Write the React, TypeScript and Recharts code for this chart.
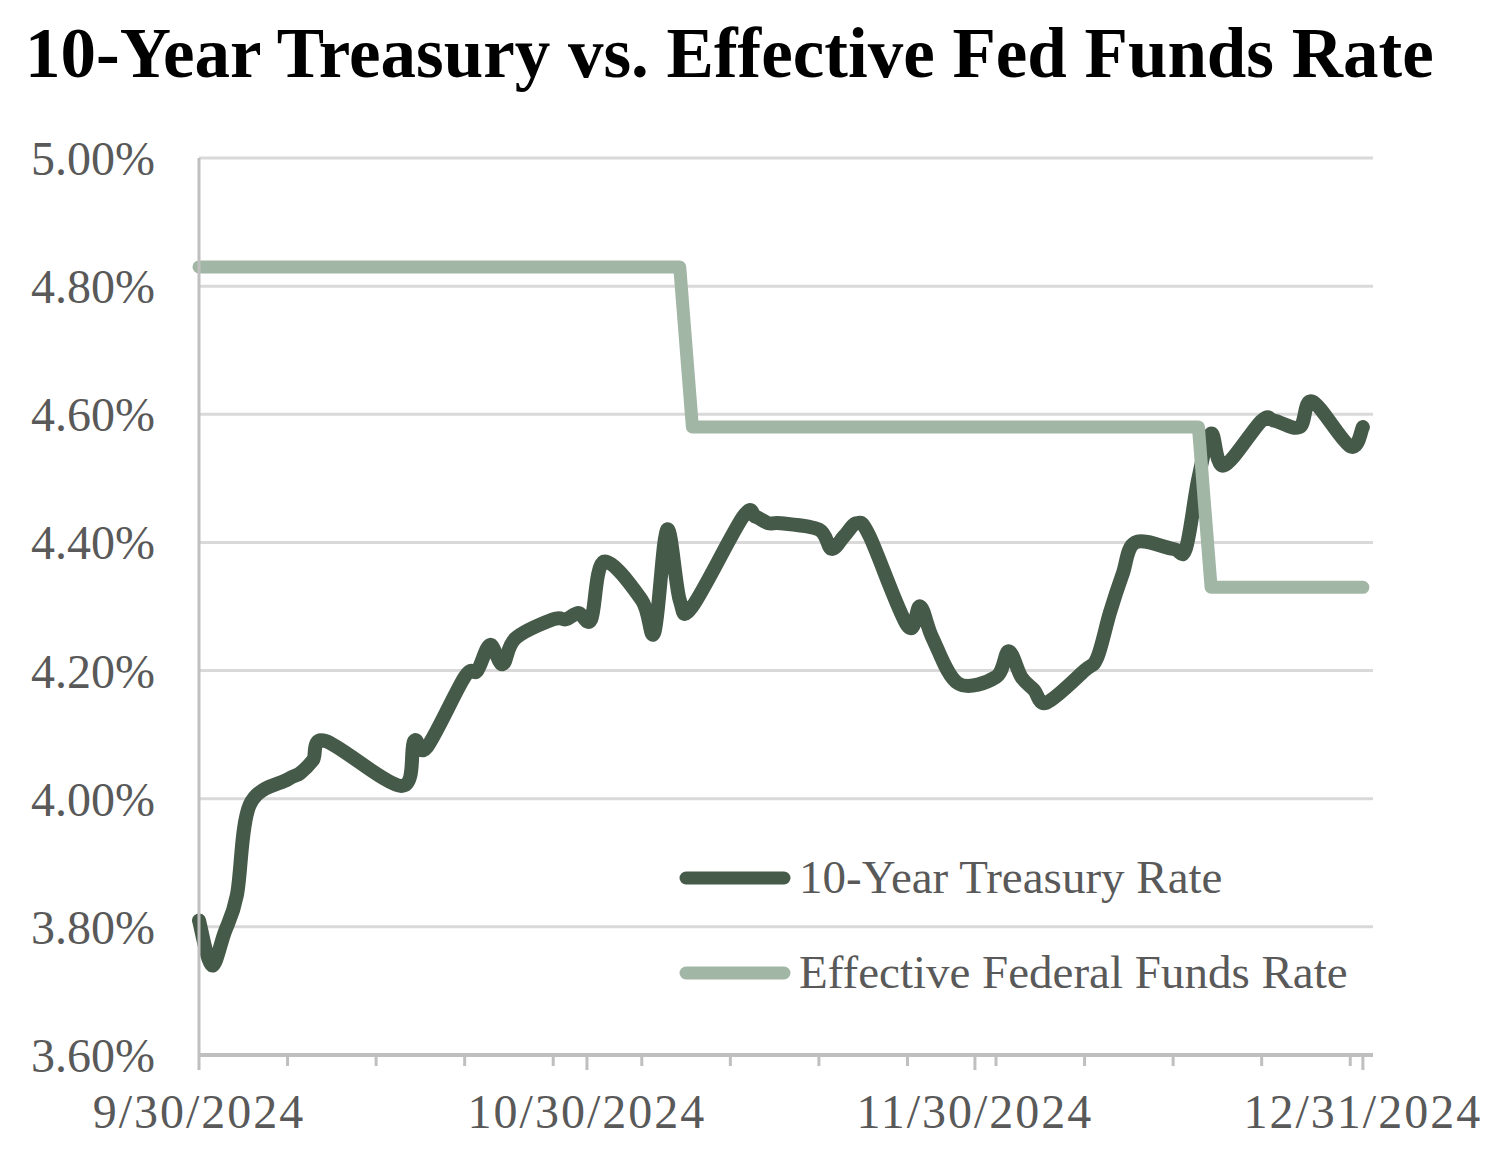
import React from "react";
import { LineChart, Line, XAxis, YAxis, CartesianGrid, Legend } from "recharts";

// ---------- data ----------
const dates = [
  "2024-09-30", "2024-10-01", "2024-10-02", "2024-10-03", "2024-10-04",
  "2024-10-07", "2024-10-08", "2024-10-09", "2024-10-10", "2024-10-16",
  "2024-10-17", "2024-10-18", "2024-10-21", "2024-10-22", "2024-10-23",
  "2024-10-24", "2024-10-25", "2024-10-28", "2024-10-29", "2024-10-30",
  "2024-10-31", "2024-11-01", "2024-11-04", "2024-11-05", "2024-11-06",
  "2024-11-07", "2024-11-08", "2024-11-12", "2024-11-13", "2024-11-14",
  "2024-11-15", "2024-11-18", "2024-11-19", "2024-11-20", "2024-11-21",
  "2024-11-22", "2024-11-25", "2024-11-26", "2024-11-27", "2024-11-29",
  "2024-12-02", "2024-12-03", "2024-12-04", "2024-12-05", "2024-12-06",
  "2024-12-09", "2024-12-10", "2024-12-11", "2024-12-12", "2024-12-13",
  "2024-12-16", "2024-12-17", "2024-12-18", "2024-12-19", "2024-12-20",
  "2024-12-23", "2024-12-24", "2024-12-26", "2024-12-27", "2024-12-30",
  "2024-12-31",
];

const treasuryRate = [
  3.81, 3.74, 3.79, 3.85, 3.99, 4.03, 4.04, 4.06, 4.09, 4.02,
  4.09, 4.08, 4.19, 4.2, 4.24, 4.21, 4.25, 4.28, 4.28, 4.29,
  4.28, 4.37, 4.31, 4.26, 4.42, 4.31, 4.3, 4.44, 4.44, 4.43,
  4.43, 4.42, 4.39, 4.41, 4.43, 4.41, 4.27, 4.3, 4.25, 4.18,
  4.19, 4.23, 4.19, 4.17, 4.15, 4.2, 4.22, 4.29, 4.35, 4.4,
  4.39, 4.39, 4.5, 4.57, 4.52, 4.59, 4.59, 4.58, 4.62, 4.55,
  4.58,
];

const fedFundsRate = [
  4.83, 4.83, 4.83, 4.83, 4.83, 4.83, 4.83, 4.83, 4.83, 4.83,
  4.83, 4.83, 4.83, 4.83, 4.83, 4.83, 4.83, 4.83, 4.83, 4.83,
  4.83, 4.83, 4.83, 4.83, 4.83, 4.83, 4.58, 4.58, 4.58, 4.58,
  4.58, 4.58, 4.58, 4.58, 4.58, 4.58, 4.58, 4.58, 4.58, 4.58,
  4.58, 4.58, 4.58, 4.58, 4.58, 4.58, 4.58, 4.58, 4.58, 4.58,
  4.58, 4.58, 4.58, 4.33, 4.33, 4.33, 4.33, 4.33, 4.33, 4.33,
  4.33,
];

const xTickLabels = ["9/30/2024", "10/30/2024", "11/30/2024", "12/31/2024"];
const yTicks = [3.6, 3.8, 4.0, 4.2, 4.4, 4.6, 4.8, 5.0];

const seriesNames = ["10-Year Treasury Rate", "Effective Federal Funds Rate"];

// ---------- helpers ----------
const FONT = '"Liberation Serif", "Times New Roman", serif';
const DARK = "#465a49";
const LIGHT = "#a2b6a5";
const AXIS = "#bfbfbf";
const GRID = "#d9d9d9";

const base = Date.UTC(2024, 8, 30);
const dayOf = (s: string) => {
  const [y, m, d] = s.split("-").map(Number);
  return Math.round((Date.UTC(y, m - 1, d) - base) / 86400000);
};

const data = dates.map((d, i) => ({
  day: dayOf(d),
  treasury: treasuryRate[i],
  fed: fedFundsRate[i],
}));

const lastDay = dayOf(dates[dates.length - 1]);
const majorTicks = xTickLabels.map((_, i) => (lastDay * i) / (xTickLabels.length - 1));
const minorTicks: number[] = [];
for (let d = 7; d < lastDay; d += 7) minorTicks.push(d);
const allTicks = [...majorTicks, ...minorTicks].sort((a, b) => a - b);

// Excel-like smoothed line (Catmull-Rom style bezier)
const excelSmooth: any = (context: any) => {
  let pts: number[][] = [];
  return {
    areaStart() {},
    areaEnd() {},
    lineStart() {
      pts = [];
    },
    point(x: number, y: number) {
      pts.push([+x, +y]);
    },
    lineEnd() {
      const n = pts.length;
      if (!n) return;
      context.moveTo(pts[0][0], pts[0][1]);
      const t = 1 / 6;
      for (let i = 0; i < n - 1; i++) {
        const p0 = pts[Math.max(0, i - 1)];
        const p1 = pts[i];
        const p2 = pts[i + 1];
        const p3 = pts[Math.min(n - 1, i + 2)];
        context.bezierCurveTo(
          p1[0] + (p2[0] - p0[0]) * t,
          p1[1] + (p2[1] - p0[1]) * t,
          p2[0] - (p3[0] - p1[0]) * t,
          p2[1] - (p3[1] - p1[1]) * t,
          p2[0],
          p2[1]
        );
      }
    },
  };
};

const XTick = (props: any) => {
  const { x, y, payload } = props;
  const idx = majorTicks.findIndex((m) => Math.abs(m - payload.value) < 1e-6);
  const major = idx >= 0;
  return (
    <g>
      <line x1={x} x2={x} y1={y} y2={y + (major ? 15 : 11)} stroke={AXIS} strokeWidth={3} />
      {major && (
        <text
          x={x}
          y={y + 73}
          textAnchor="middle"
          fontFamily={FONT}
          fontSize={48}
          letterSpacing={2}
          fill="#595959"
        >
          {xTickLabels[idx]}
        </text>
      )}
    </g>
  );
};

const renderLegend = (props: any) => {
  const { payload } = props;
  return (
    <div>
      {(payload || []).map((entry: any, i: number) => (
        <div
          key={i}
          style={{ display: "flex", alignItems: "center", height: 95 }}
        >
          <svg width={112} height={16} style={{ display: "block" }}>
            <line
              x1={7}
              y1={8}
              x2={105}
              y2={8}
              stroke={entry.color}
              strokeWidth={13}
              strokeLinecap="round"
            />
          </svg>
          <span
            style={{
              marginLeft: 8,
              fontFamily: FONT,
              fontSize: 47,
              color: "#595959",
              lineHeight: 1,
              whiteSpace: "nowrap",
            }}
          >
            {entry.value}
          </span>
        </div>
      ))}
    </div>
  );
};

export default function App() {
  return (
    <div style={{ position: "relative", width: 1492, height: 1157, background: "#fff" }}>
      <LineChart
        width={1492}
        height={1157}
        data={data}
        margin={{ top: 150, right: 127, bottom: 10, left: 20 }}
      >
        <CartesianGrid horizontal vertical={false} stroke={GRID} strokeWidth={3} />
        <XAxis
          dataKey="day"
          type="number"
          domain={[0, 92.8]}
          ticks={allTicks}
          interval={0}
          tick={<XTick />}
          tickSize={0}
          tickMargin={0}
          height={100}
          axisLine={{ stroke: AXIS, strokeWidth: 4 }}
          tickLine={false}
        />
        <YAxis
          type="number"
          domain={[3.6, 5.0]}
          ticks={yTicks}
          interval={0}
          width={171}
          tickSize={0}
          tickMargin={44}
          tickLine={false}
          axisLine={{ stroke: AXIS, strokeWidth: 3 }}
          tickFormatter={(v: number) => v.toFixed(2) + "%"}
          tick={{ fill: "#595959", fontSize: 48, fontFamily: FONT }}
        />
        <Legend
          layout="vertical"
          align="center"
          verticalAlign="middle"
          content={renderLegend}
          wrapperStyle={{ left: 671, top: 822, width: 740 }}
        />
        <Line
          dataKey="treasury"
          name={seriesNames[0]}
          type={excelSmooth}
          stroke={DARK}
          strokeWidth={14}
          strokeLinecap="round"
          strokeLinejoin="round"
          dot={false}
          activeDot={false}
          isAnimationActive={false}
        />
        <Line
          dataKey="fed"
          name={seriesNames[1]}
          type="linear"
          stroke={LIGHT}
          strokeWidth={13}
          strokeLinecap="round"
          strokeLinejoin="round"
          dot={false}
          activeDot={false}
          isAnimationActive={false}
        />
      </LineChart>
      <div
        style={{
          position: "absolute",
          left: 17,
          top: 10,
          fontFamily: FONT,
          fontWeight: "bold",
          fontSize: 71,
          lineHeight: 1,
          color: "#000",
          whiteSpace: "nowrap",
        }}
      >
        10-Year Treasury vs. Effective Fed Funds Rate
      </div>
    </div>
  );
}
